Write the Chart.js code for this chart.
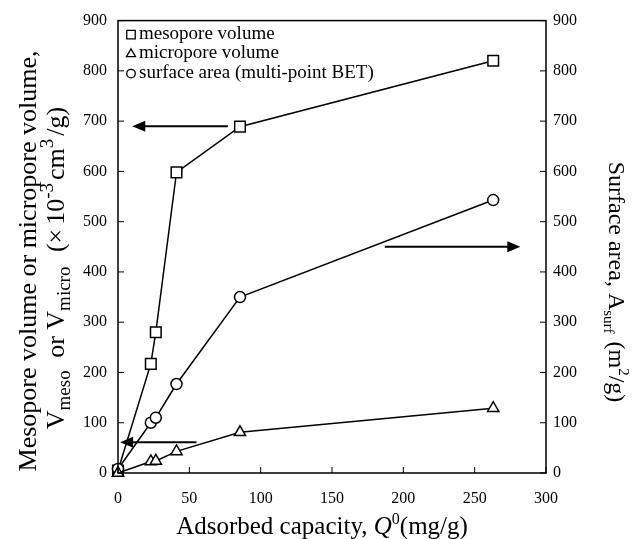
<!DOCTYPE html>
<html>
<head>
<meta charset="utf-8">
<script src="https://cdn.jsdelivr.net/npm/chart.js@4.4.0/dist/chart.umd.min.js"></script>
<style>
  html, body { margin: 0; padding: 0; background: #fff; }
</style>
</head>
<body>
<canvas id="myChart" width="637" height="539"></canvas>
<script>
// data
const capacity = [0, 23, 26.5, 41, 85.5, 263];
const mesoVolume = [5, 217, 280, 598, 689, 820];
const microVolume = [0, 23, 24, 43, 81, 129];
const surfaceArea = [8, 100, 110, 177, 350, 543];
const seriesLabels = ['mesopore volume', 'micropore volume', 'surface area (multi-point BET)'];
const xTicks = [0, 50, 100, 150, 200, 250, 300];
const yTicks = [0, 100, 200, 300, 400, 500, 600, 700, 800, 900];

// arrows pointing to the axis each curve belongs to (data units)
const arrowFrom = [77, 55, 187];
const arrowTo = [10, 1.5, 282];
const arrowAt = [690, 61, 450];
const arrowAxis = ['y', 'y', 'y2'];

const SERIF = '"Liberation Serif", "Times New Roman", serif';
const toPoints = (ys) => capacity.map((x, i) => ({ x: x, y: ys[i] }));

// draw text made of parts, some as sub/superscript
function drawRich(ctx, parts, size, smallScale) {
    const small = Math.round(size * (smallScale || 0.64));
    const fontOf = (p) => (p.italic ? 'italic ' : '') + (p.s ? small : size) + 'px ' + SERIF;
    let total = 0;
    parts.forEach(p => { ctx.font = fontOf(p); total += ctx.measureText(p.t).width + (p.gap || 0); });
    let x = -total / 2;
    ctx.textAlign = 'left';
    ctx.textBaseline = 'alphabetic';
    parts.forEach(p => {
        ctx.font = fontOf(p);
        let dy = 0;
        if (p.s === 'sup') dy = -size * 0.42;
        if (p.s === 'sub') dy = size * 0.22;
        ctx.fillText(p.t, x, dy);
        x += ctx.measureText(p.t).width + (p.gap || 0);
    });
}

const decorations = {
    id: 'decorations',
    afterDatasetsDraw(chart) {
        const { ctx, chartArea: a, scales } = chart;
        ctx.save();
        ctx.strokeStyle = '#000';
        ctx.fillStyle = '#000';

        // frame
        ctx.lineWidth = 1.5;
        ctx.strokeRect(a.left, a.top, a.right - a.left, a.bottom - a.top);

        // inward tick marks
        ctx.lineWidth = 1;
        ctx.beginPath();
        xTicks.forEach(v => {
            const px = scales.x.getPixelForValue(v);
            ctx.moveTo(px, a.bottom); ctx.lineTo(px, a.bottom - 6);
        });
        yTicks.forEach(v => {
            const py = scales.y.getPixelForValue(v);
            ctx.moveTo(a.left, py); ctx.lineTo(a.left + 6, py);
            const py2 = scales.y2.getPixelForValue(v);
            ctx.moveTo(a.right, py2); ctx.lineTo(a.right - 6, py2);
        });
        ctx.stroke();

        // arrows
        arrowFrom.forEach((f, i) => {
            const y = scales[arrowAxis[i]].getPixelForValue(arrowAt[i]);
            const x0 = scales.x.getPixelForValue(f);
            const x1 = scales.x.getPixelForValue(arrowTo[i]);
            const dir = Math.sign(x1 - x0);
            ctx.lineWidth = 2;
            ctx.beginPath();
            ctx.moveTo(x0, y); ctx.lineTo(x1 - dir * 10, y);
            ctx.stroke();
            ctx.beginPath();
            ctx.moveTo(x1, y);
            ctx.lineTo(x1 - dir * 13, y - 5.5);
            ctx.lineTo(x1 - dir * 13, y + 5.5);
            ctx.closePath();
            ctx.fill();
        });

        // legend
        const styles = ['rect', 'triangle', 'circle'];
        ctx.font = '19px ' + SERIF;
        ctx.textAlign = 'left';
        ctx.textBaseline = 'middle';
        seriesLabels.forEach((lab, i) => {
            const y = a.top + 13 + i * 19.5;
            const r = styles[i] === 'rect' ? 6 : (styles[i] === 'triangle' ? 5.2 : 4.3);
            ctx.lineWidth = 1.3;
            ctx.fillStyle = '#fff';
            Chart.helpers.drawPoint(ctx, { pointStyle: styles[i], radius: r, borderWidth: 1.3 }, a.left + 13, y + 1);
            ctx.fillStyle = '#000';
            ctx.fillText(lab, a.left + 21, y);
        });

        // axis titles
        ctx.save();
        ctx.translate(322, 534);
        drawRich(ctx, [
            { t: 'Adsorbed capacity, ' },
            { t: 'Q', italic: true },
            { t: '0', s: 'sup' },
            { t: '(mg/g)' }
        ], 25);
        ctx.restore();

        ctx.save();
        ctx.translate(36, 261);
        ctx.rotate(-Math.PI / 2);
        drawRich(ctx, [{ t: 'Mesopore volume or micropore volume,' }], 26);
        ctx.restore();

        ctx.save();
        ctx.translate(64, 268);
        ctx.rotate(-Math.PI / 2);
        drawRich(ctx, [
            { t: 'V' }, { t: 'meso', s: 'sub', gap: 6 },
            { t: ' or V' }, { t: 'micro', s: 'sub', gap: 8 },
            { t: ' (\u00d7', gap: 4 }, { t: '10' }, { t: '-3', s: 'sup', gap: 3 },
            { t: 'cm' }, { t: '3', s: 'sup', gap: 3 },
            { t: '/g)' }
        ], 26, 0.74);
        ctx.restore();

        ctx.save();
        ctx.translate(609, 282);
        ctx.rotate(Math.PI / 2);
        drawRich(ctx, [
            { t: 'Surface area, A' }, { t: 'surf', s: 'sub', gap: 2 },
            { t: ' (m' }, { t: '2', s: 'sup' },
            { t: '/g)' }
        ], 24);
        ctx.restore();

        ctx.restore();
    }
};

const tickFont = { family: SERIF, size: 16 };
const lineSet = (label, ys, style, radius, axis) => ({
    label: label,
    data: toPoints(ys),
    yAxisID: axis,
    showLine: true,
    borderColor: '#000',
    borderWidth: 1.5,
    pointStyle: style,
    pointRadius: radius,
    pointBorderWidth: 1.5,
    pointBorderColor: '#000',
    pointBackgroundColor: '#fff',
    clip: false
});

const ctx = document.getElementById('myChart').getContext('2d');
new Chart(ctx, {
    type: 'scatter',
    data: {
        datasets: [
            lineSet(seriesLabels[1], microVolume, 'triangle', 6.5, 'y'),
            lineSet(seriesLabels[2], surfaceArea, 'circle', 5.5, 'y2'),
            lineSet(seriesLabels[0], mesoVolume, 'rect', 7.5, 'y')
        ]
    },
    options: {
        responsive: false,
        animation: false,
        devicePixelRatio: 1,
        layout: { padding: { top: 17, left: 0, right: 0, bottom: 0 } },
        plugins: { legend: { display: false }, tooltip: { enabled: false } },
        scales: {
            x: {
                type: 'linear', min: 0, max: 300,
                afterBuildTicks: (s) => { s.ticks = xTicks.map(v => ({ value: v })); },
                afterFit: (s) => { s.height = 66; },
                grid: { display: false, drawTicks: false },
                border: { display: false },
                ticks: { font: tickFont, color: '#000', padding: 16, maxRotation: 0 }
            },
            y: {
                position: 'left', min: 0, max: 900,
                afterBuildTicks: (s) => { s.ticks = yTicks.map(v => ({ value: v })); },
                afterFit: (s) => { s.width = 118; },
                grid: { display: false, drawTicks: false },
                border: { display: false },
                ticks: { font: tickFont, color: '#000', padding: 11 }
            },
            y2: {
                position: 'right', min: 0, max: 900,
                afterBuildTicks: (s) => { s.ticks = yTicks.map(v => ({ value: v })); },
                afterFit: (s) => { s.width = 91; },
                grid: { display: false, drawTicks: false },
                border: { display: false },
                ticks: { font: tickFont, color: '#000', padding: 7 }
            }
        }
    },
    plugins: [decorations]
});
</script>
</body>
</html>
